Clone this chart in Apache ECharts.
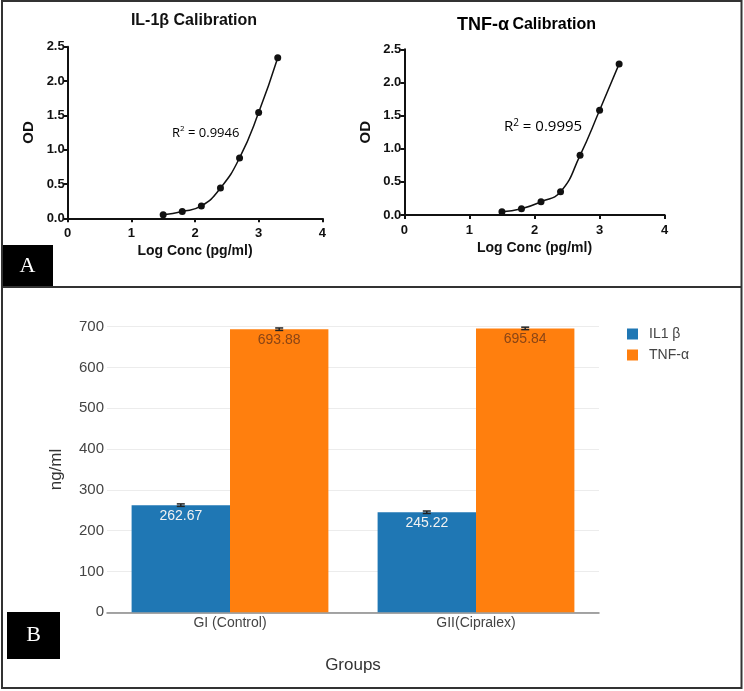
<!DOCTYPE html>
<html>
<head>
<meta charset="utf-8">
<script src="https://cdn.jsdelivr.net/npm/echarts@6/dist/echarts.min.js"></script>
<style>
  html, body { margin: 0; padding: 0; background: #fff; }
  #chart { width: 744px; height: 691px; }
</style>
</head>
<body>
<div id="chart"></div>
<script>
// calibration data (log conc vs OD)
var logConc = [1.5, 1.8, 2.1, 2.4, 2.7, 3.0, 3.3];
var il1bOD = [0.05, 0.10, 0.18, 0.44, 0.88, 1.54, 2.34];
var tnfOD = [0.05, 0.095, 0.20, 0.35, 0.90, 1.58, 2.28];

// bar chart data
var groups = ['GI (Control)', 'GII(Cipralex)'];
var il1bValues = [262.67, 245.22];
var tnfValues = [693.88, 695.84];
var il1bErr = [3, 3];
var tnfErr = [3, 3];

var font = '"Liberation Sans", Arial, sans-serif';

function pairs(xs, ys) {
  return xs.map(function (x, i) { return [x, ys[i]]; });
}

function calibXAxis(gridIndex) {
  return {
    gridIndex: gridIndex,
    type: 'value',
    min: 0, max: 4, interval: 1,
    name: 'Log Conc (pg/ml)',
    nameLocation: 'middle',
    nameGap: 26,
    nameTextStyle: { fontFamily: font, fontWeight: 'bold', fontSize: 14, color: '#111' },
    axisLine: { lineStyle: { color: '#111', width: 2 } },
    axisTick: { show: true, length: 4, lineStyle: { color: '#111', width: 2 } },
    axisLabel: { fontFamily: font, fontWeight: 'bold', fontSize: 13, color: '#111', margin: 9 },
    splitLine: { show: false }
  };
}

function calibYAxis(gridIndex) {
  return {
    gridIndex: gridIndex,
    type: 'value',
    min: 0, max: 2.5, interval: 0.5,
    name: 'OD',
    nameLocation: 'middle',
    nameGap: 31,
    nameTextStyle: { fontFamily: font, fontWeight: 'bold', fontSize: 15, color: '#111' },
    axisLine: { show: true, lineStyle: { color: '#111', width: 2 } },
    axisTick: { show: true, length: 4, lineStyle: { color: '#111', width: 2 } },
    axisLabel: {
      fontFamily: font, fontWeight: 'bold', fontSize: 13, color: '#111', margin: 3,
      formatter: function (v) { return v.toFixed(1); }
    },
    splitLine: { show: false }
  };
}

function calibSeries(idx, data) {
  return {
    type: 'line',
    xAxisIndex: idx,
    yAxisIndex: idx,
    data: pairs(logConc, data),
    smooth: 0.5,
    symbol: 'circle',
    symbolSize: 7,
    itemStyle: { color: '#111' },
    lineStyle: { color: '#111', width: 1.5 },
    silent: true
  };
}

// error bars on top of grouped bars
function errorSeries(values, errs, side) {
  return {
    type: 'custom',
    xAxisIndex: 2,
    yAxisIndex: 2,
    data: values.map(function (v, i) { return [i, v, errs[i]]; }),
    z: 10,
    silent: true,
    renderItem: function (params, api) {
      var catW = api.size([1, 0])[0];
      var barW = catW * 0.8 / 2;
      var c = api.coord([api.value(0), api.value(1)]);
      var x = c[0] + side * barW / 2;
      var hi = api.coord([api.value(0), api.value(1) + api.value(2)])[1];
      var lo = api.coord([api.value(0), api.value(1) - api.value(2)])[1];
      var style = { stroke: '#222', lineWidth: 1.5 };
      return {
        type: 'group',
        children: [
          { type: 'line', shape: { x1: x, y1: hi, x2: x, y2: lo }, style: style },
          { type: 'line', shape: { x1: x - 4, y1: hi, x2: x + 4, y2: hi }, style: style },
          { type: 'line', shape: { x1: x - 4, y1: lo, x2: x + 4, y2: lo }, style: style }
        ]
      };
    }
  };
}

var chart = echarts.init(document.getElementById('chart'));

var option = {
  animation: false,
  backgroundColor: '#fff',
  grid: [
    { left: 67.7, top: 46.7, width: 254.6, height: 171.6 },
    { left: 404.3, top: 49.3, width: 260.4, height: 165.7 },
    { left: 107, top: 326.7, width: 492, height: 285.6 }
  ],
  legend: {
    data: ['IL1 β', 'TNF-α'],
    orient: 'vertical',
    left: 622,
    top: 322,
    itemWidth: 11,
    itemHeight: 11,
    itemGap: 7,
    icon: 'rect',
    textStyle: { fontFamily: font, fontSize: 14, color: '#444', padding: [0, 0, 0, 6] }
  },
  xAxis: [
    calibXAxis(0),
    calibXAxis(1),
    {
      gridIndex: 2,
      type: 'category',
      data: groups,
      name: 'Groups',
      nameLocation: 'middle',
      nameGap: 45,
      nameTextStyle: { fontFamily: font, fontSize: 17, color: '#333' },
      axisLine: { lineStyle: { color: '#888', width: 1.5 } },
      axisTick: { show: false },
      axisLabel: { fontFamily: font, fontSize: 14, color: '#444', margin: 4 }
    }
  ],
  yAxis: [
    calibYAxis(0),
    calibYAxis(1),
    {
      gridIndex: 2,
      type: 'value',
      min: 0, max: 700, interval: 100,
      name: 'ng/ml',
      nameLocation: 'middle',
      nameGap: 42,
      nameTextStyle: { fontFamily: font, fontSize: 17, color: '#333' },
      axisLine: { show: false },
      axisTick: { show: false },
      axisLabel: { fontFamily: font, fontSize: 15, color: '#444', margin: 3 },
      splitLine: { lineStyle: { color: '#ececec', width: 1 } }
    }
  ],
  series: [
    calibSeries(0, il1bOD),
    calibSeries(1, tnfOD),
    {
      name: 'IL1 β',
      type: 'bar',
      xAxisIndex: 2,
      yAxisIndex: 2,
      data: il1bValues,
      barGap: '0%',
      barCategoryGap: '20%',
      itemStyle: { color: '#1f77b4' },
      label: {
        show: true, position: 'insideTop', distance: 4,
        fontFamily: font, fontSize: 14, color: '#f2f2f2',
        formatter: function (p) { return p.value.toFixed(2); }
      },
      silent: true
    },
    {
      name: 'TNF-α',
      type: 'bar',
      xAxisIndex: 2,
      yAxisIndex: 2,
      data: tnfValues,
      barGap: '0%',
      barCategoryGap: '20%',
      itemStyle: { color: '#ff7f0e' },
      label: {
        show: true, position: 'insideTop', distance: 4,
        fontFamily: font, fontSize: 14, color: '#8a4516',
        formatter: function (p) { return p.value.toFixed(2); }
      },
      silent: true
    },
    errorSeries(il1bValues, il1bErr, -1),
    errorSeries(tnfValues, tnfErr, 1)
  ],
  graphic: [
    // panel borders
    { type: 'rect', shape: { x: 2, y: 1, width: 739.5, height: 687 }, style: { fill: 'none', stroke: '#333', lineWidth: 2 }, z: 100 },
    { type: 'line', shape: { x1: 2, y1: 287, x2: 741.5, y2: 287 }, style: { stroke: '#333', lineWidth: 2 }, z: 100 },
    // panel tags
    { type: 'rect', shape: { x: 2, y: 245, width: 51, height: 42 }, style: { fill: '#000' }, z: 90 },
    { type: 'text', x: 27.5, y: 266, style: { text: 'A', fill: '#fff', font: '22px "Liberation Serif", "DejaVu Serif", serif', align: 'center', verticalAlign: 'middle' }, z: 91 },
    { type: 'rect', shape: { x: 7, y: 612, width: 53, height: 47 }, style: { fill: '#000' }, z: 90 },
    { type: 'text', x: 33.5, y: 635.5, style: { text: 'B', fill: '#fff', font: '22px "Liberation Serif", "DejaVu Serif", serif', align: 'center', verticalAlign: 'middle' }, z: 91 },
    // titles
    { type: 'text', x: 194, y: 21, style: { text: 'IL-1β Calibration', fill: '#111', font: 'bold 16px "Liberation Sans", Arial, sans-serif', align: 'center', verticalAlign: 'middle' } },
    {
      type: 'text', x: 457, y: 25,
      style: {
        text: '{a|TNF-α} {c|Calibration}',
        verticalAlign: 'middle',
        rich: {
          a: { fontFamily: font, fontWeight: 'bold', fontSize: 18, color: '#111' },
          c: { fontFamily: font, fontWeight: 'bold', fontSize: 16, color: '#111' }
        }
      }
    },
    // R squared
    {
      type: 'text', x: 172, y: 133,
      style: {
        text: '{b|R}{s|2}{b| = 0.9946}',
        verticalAlign: 'middle',
        rich: {
          b: { fontFamily: '"Open Sans", "Liberation Sans", sans-serif', fontSize: 13, color: '#333' },
          s: { fontFamily: '"Open Sans", "Liberation Sans", sans-serif', fontSize: 8, color: '#333', padding: [0, 0, 8, 0] }
        }
      }
    },
    {
      type: 'text', x: 504, y: 127,
      style: {
        text: '{b|R}{s|2}{b| = 0.9995}',
        verticalAlign: 'middle',
        rich: {
          b: { fontFamily: '"Open Sans", "Liberation Sans", sans-serif', fontSize: 15, color: '#333' },
          s: { fontFamily: '"Open Sans", "Liberation Sans", sans-serif', fontSize: 10, color: '#333', padding: [0, 0, 8, 0] }
        }
      }
    }
  ]
};

chart.setOption(option);
</script>
</body>
</html>
